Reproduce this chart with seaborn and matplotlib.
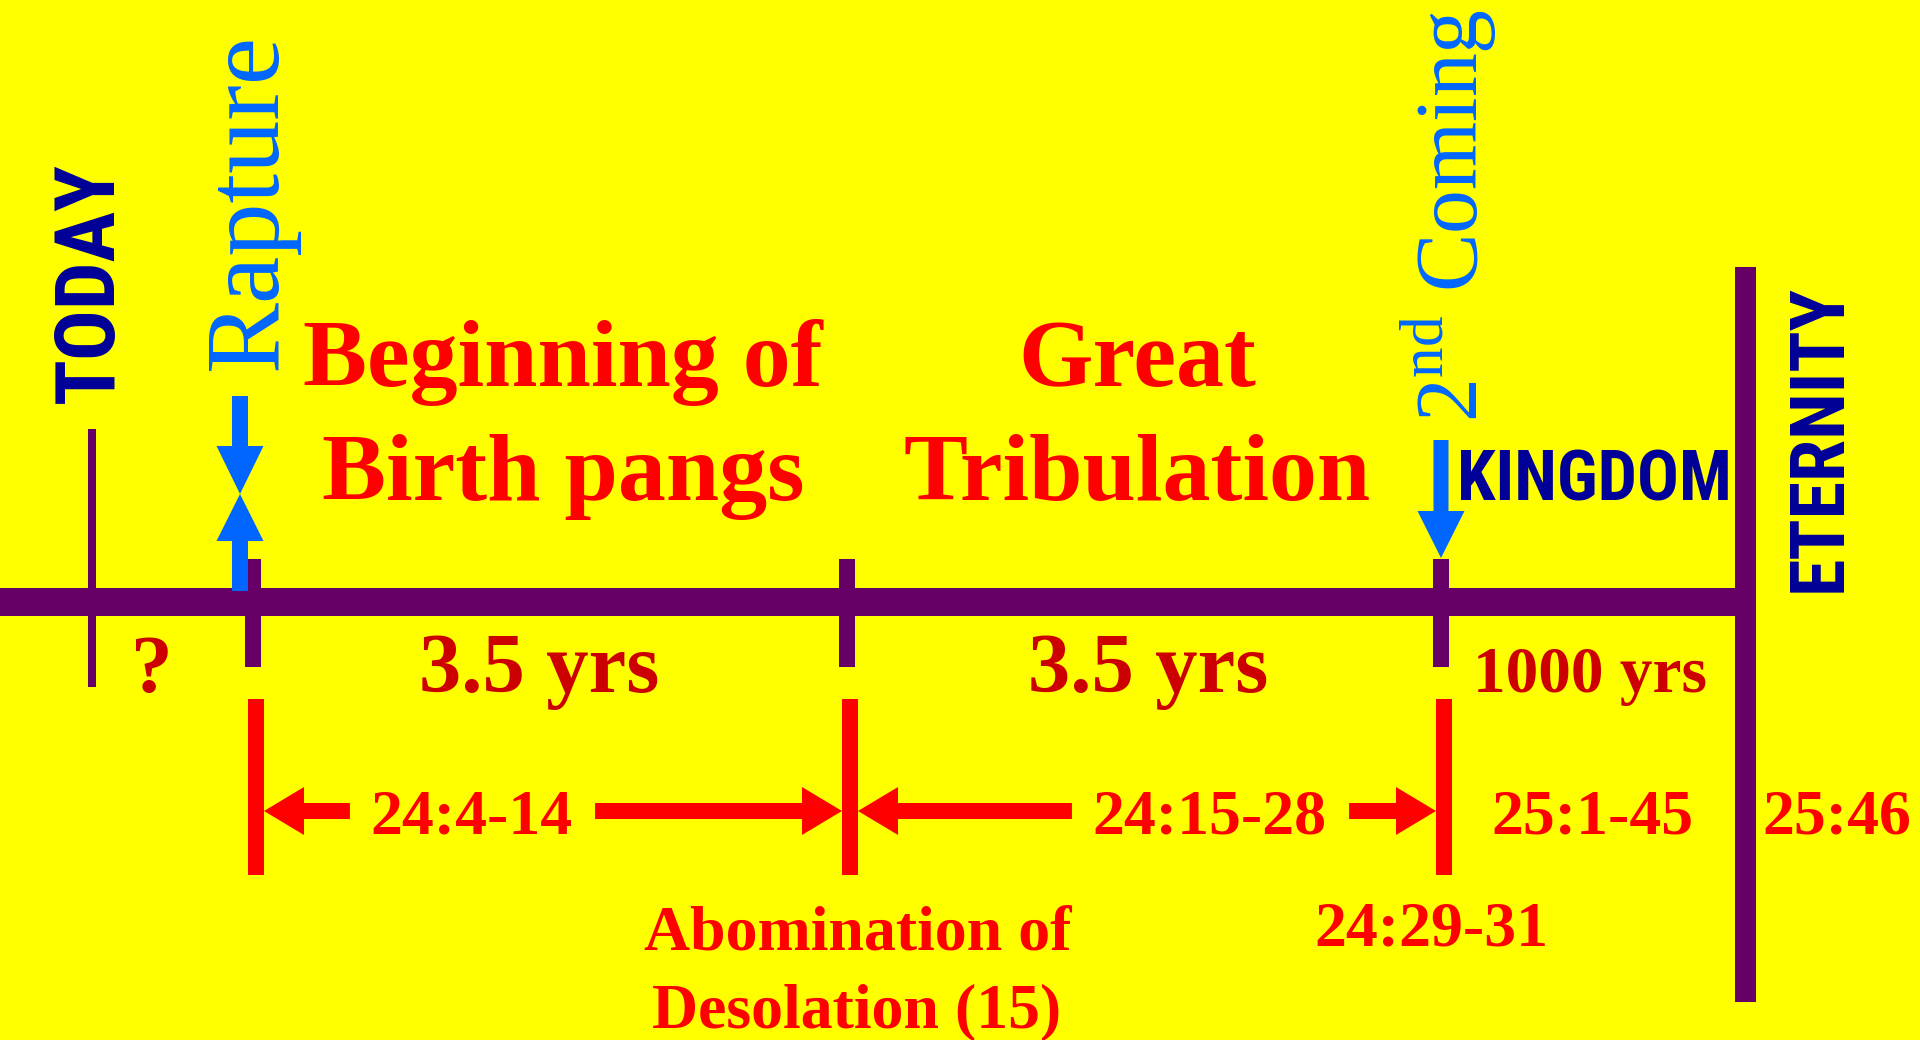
import matplotlib
matplotlib.use("Agg")
import matplotlib.pyplot as plt
import seaborn as sns
from matplotlib import font_manager
from matplotlib.patches import Rectangle

sns.set_theme(style="white")
plt.rcParams["font.family"] = ["Liberation Serif", "DejaVu Serif"]
plt.rcParams["mathtext.fontset"] = "custom"
plt.rcParams["mathtext.rm"] = "Liberation Serif"

YELLOW = "#FFFF00"
PURPLE = "#660066"
NAVY = "#000099"
SKY = "#0066FF"
RED = "#FF0000"
DARKRED = "#CC0000"

installed = {f.name for f in font_manager.fontManager.ttflist}
BLOCK = dict(family="DejaVu Sans", fontweight="bold")
for cand in ["Roboto Condensed", "Liberation Sans Narrow", "Open Sans Condensed", "Roboto"]:
    if cand in installed:
        BLOCK = dict(family=cand, fontweight=900)
        break

# points on the timeline (x along the line)
event_names = ["TODAY", "Rapture", "Abomination", "2nd Coming", "ETERNITY"]
event_x = [92, 253, 847, 1441, 1745]

# spans between the points
period_labels = ["?", "3.5 yrs", "3.5 yrs", "1000 yrs"]
period_x = [152, 539, 1148, 1590]

# Matthew references under the spans
ref_labels = ["24:4-14", "24:15-28", "25:1-45", "25:46"]
ref_x = [471, 1209, 1592, 1837]

fig = plt.figure(figsize=(19.2, 10.4), dpi=100, facecolor=YELLOW)
ax = fig.add_axes([0, 0, 1, 1])
ax.set_xlim(0, 1920)
ax.set_ylim(1040, 0)
ax.set_facecolor(YELLOW)
ax.axis("off")
renderer = fig.canvas.get_renderer()


def bar(xc, w, y0, y1, color):
    ax.add_patch(Rectangle((xc - w / 2, y0), w, y1 - y0, color=color, lw=0))


def arrow(x0, y0, x1, y1, color, w, hw, hl):
    ax.arrow(x0, y0, x1 - x0, y1 - y0, width=w, head_width=hw, head_length=hl,
             length_includes_head=True, fc=color, ec="none")


def fit(t, length, vertical):
    # scale the font so the text spans `length` pixels
    for _ in range(3):
        bb = t.get_window_extent(renderer)
        cur = bb.height if vertical else bb.width
        t.set_fontsize(t.get_fontsize() * length / cur)


# main line and ticks
ax.add_patch(Rectangle((0, 588), event_x[4], 28, color=PURPLE, lw=0))
bar(event_x[4], 21, 267, 1002, PURPLE)
bar(event_x[0], 8, 429, 687, PURPLE)
for x in event_x[1:4]:
    bar(x, 16, 559, 667, PURPLE)
    bar(x + 3, 16, 699, 875, RED)

# blue arrows
arrow(240, 396, 240, 494, SKY, 16, 47, 48)
arrow(240, 591, 240, 494, SKY, 16, 47, 47)
arrow(event_x[3], 440, event_x[3], 558, SKY, 15, 47, 47)

# vertical names
t = ax.text(event_x[0] - 2, 283, "TODAY", rotation=90, ha="center", va="center",
            color=NAVY, fontsize=50, **BLOCK)
fit(t, 241, True)
t = ax.text(251, 201, "Rapture", rotation=90, ha="center", va="center",
            color=SKY, fontsize=72)
fit(t, 337, True)
t = ax.text(1448, 216, r"2$^{\mathrm{nd}}$ Coming", rotation=90, ha="center",
            va="center", color=SKY, fontsize=62)
fit(t, 413, True)
t = ax.text(1820, 438, "ETERNITY", rotation=90, ha="center", va="center",
            color=NAVY, fontsize=50, **BLOCK)
fit(t, 308, True)
t = ax.text(1594, 481, "KINGDOM", ha="center", va="center", color=NAVY,
            fontsize=40, **BLOCK)
fit(t, 275, False)

# headings
ax.text(563, 386, "Beginning of", ha="center", va="baseline", color=RED,
        fontsize=69, fontweight="bold")
ax.text(563, 500, "Birth pangs", ha="center", va="baseline", color=RED,
        fontsize=69, fontweight="bold")
ax.text(1137, 386, "Great", ha="center", va="baseline", color=RED,
        fontsize=69, fontweight="bold")
ax.text(1137, 500, "Tribulation", ha="center", va="baseline", color=RED,
        fontsize=69, fontweight="bold")

# period lengths
sizes = [60, 61, 61, 47]
for lab, x, s in zip(period_labels, period_x, sizes):
    ax.text(x, 692, lab, ha="center", va="baseline", color=DARKRED,
            fontsize=s, fontweight="bold")

# references
ref_texts = []
for lab, x in zip(ref_labels, ref_x):
    t = ax.text(x, 834, lab, ha="center", va="baseline", color=RED,
                fontsize=46, fontweight="bold")
    ref_texts.append(t)

inv = ax.transData.inverted()
for i in range(2):
    bb = ref_texts[i].get_window_extent(renderer)
    left = inv.transform((bb.x0, bb.y0))[0]
    right = inv.transform((bb.x1, bb.y0))[0]
    arrow(left - 20, 811, event_x[i + 1] + 11, 811, RED, 16, 48, 40)
    arrow(right + 23, 811, event_x[i + 2] - 5, 811, RED, 16, 48, 40)

ax.text(1431, 946, "24:29-31", ha="center", va="baseline", color=RED,
        fontsize=46, fontweight="bold")
ax.text(858, 949, "Abomination of", ha="center", va="baseline", color=RED,
        fontsize=46, fontweight="bold")
ax.text(857, 1027, "Desolation (15)", ha="center", va="baseline", color=RED,
        fontsize=46, fontweight="bold")

fig.savefig("out.png", dpi=100, facecolor=YELLOW)
